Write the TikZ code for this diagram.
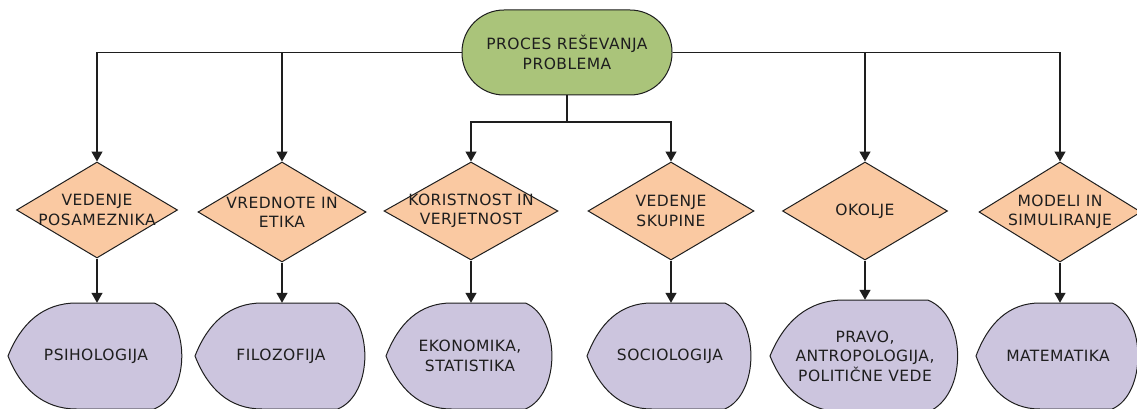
\documentclass[tikz,border=0pt]{standalone}
\usepackage{fontspec}
\setmainfont{DejaVu Sans}[LetterSpace=3]
\usetikzlibrary{shapes.geometric,arrows.meta}

\definecolor{topgreen}{RGB}{170,196,122}
\definecolor{peach}{RGB}{250,201,162}
\definecolor{lilac}{RGB}{204,197,222}
\definecolor{ink}{RGB}{30,30,30}

\tikzset{
  txt/.style={font=\fontsize{15.5}{19.5}\selectfont, text=ink, align=center},
  conn/.style={draw=ink, line width=1.3pt},
  arr/.style={conn, -{Triangle[length=10pt,width=11pt]}},
  startbox/.style={txt, draw=ink, fill=topgreen, line width=1pt,
    rectangle, rounded corners=42pt, minimum width=210pt, minimum height=85pt, inner sep=0pt},
  decision/.style={diamond, draw=ink, fill=peach, line width=1pt, inner sep=0pt},
  dlabel/.style={label={[txt]center:{#1}}},
  fieldbox/.style={txt, inner sep=0pt},
  fieldline/.style={draw=ink, fill=lilac, line width=1pt},
}

% display-type outline: pointed left end, flat top/bottom, bulging right end
\newcommand\fieldoutline[4]{%
  \filldraw[fieldline, shift={(#1,#2)}, xscale=#3, yscale=#4]
    (-1,0) .. controls (-0.85,-0.62) and (-0.6,-1) .. (-0.22,-1)
    -- (0.66,-1) .. controls (1.08,-0.72) and (1.08,0.72) .. (0.66,1)
    -- (-0.22,1) .. controls (-0.6,1) and (-0.85,0.62) .. (-1,0) -- cycle;}

\begin{document}
\begin{tikzpicture}[x=1pt,y=-1pt]
  \useasboundingbox (0,0) rectangle (1137,409);
  \fill[white] (0,0) rectangle (1137,409);

  % root
  \node[startbox] (top) at (567,52.5) {PROCES REŠEVANJA\\PROBLEMA};

  % decisions
  \node[decision, minimum width=161pt, minimum height=96pt,  dlabel={VEDENJE\\POSAMEZNIKA}]   (d1) at (97,210)  {};
  \node[decision, minimum width=168pt, minimum height=100pt, dlabel={VREDNOTE IN\\ETIKA}]      (d2) at (282,212) {};
  \node[decision, minimum width=174pt, minimum height=98pt,  dlabel={KORISTNOST IN\\VERJETNOST}] (d3) at (471,211) {};
  \node[decision, minimum width=166pt, minimum height=98pt,  dlabel={VEDENJE\\SKUPINE}]        (d4) at (671,211) {};
  \node[decision, minimum width=165pt, minimum height=98pt,  dlabel={OKOLJE}]                  (d5) at (865,211) {};
  \node[decision, minimum width=162pt, minimum height=100pt, dlabel={MODELI IN\\SIMULIRANJE}]  (d6) at (1060,212) {};

  % fields
  \fieldoutline{96}{356}{88}{53}
  \node[fieldbox, minimum width=176pt, minimum height=106pt] (s1) at (96,356) {PSIHOLOGIJA};
  \fieldoutline{281}{356}{86}{53}
  \node[fieldbox, minimum width=172pt, minimum height=106pt] (s2) at (281,356) {FILOZOFIJA};
  \fieldoutline{470}{356}{84}{53}
  \node[fieldbox, minimum width=168pt, minimum height=106pt] (s3) at (470,356) {EKONOMIKA,\\STATISTIKA};
  \fieldoutline{670}{356}{83}{53}
  \node[fieldbox, minimum width=166pt, minimum height=106pt] (s4) at (670,356) {SOCIOLOGIJA};
  \fieldoutline{865}{356}{95}{56}
  \node[fieldbox, minimum width=190pt, minimum height=112pt] (s5) at (865,356) {PRAVO,\\ANTROPOLOGIJA,\\POLITIČNE VEDE};
  \fieldoutline{1058}{356}{82}{53}
  \node[fieldbox, minimum width=164pt, minimum height=106pt] (s6) at (1058,356) {MATEMATIKA};

  % root to decisions
  \coordinate (bus) at (0,122);
  \draw[arr] (top.west) -| (d1.north);
  \draw[arr] (top.west -| d2.north) -- (d2.north);
  \draw[arr] (top.east) -| (d6.north);
  \draw[arr] (top.east -| d5.north) -- (d5.north);
  \draw[arr] (top.south) -- (top.south |- bus) -| (d3.north);
  \draw[arr] (top.south |- bus) -| (d4.north);

  % decisions to fields
  \foreach \i in {1,...,6}
    \draw[arr] (d\i.south) -- (d\i.south |- s\i.north);
\end{tikzpicture}
\end{document}
